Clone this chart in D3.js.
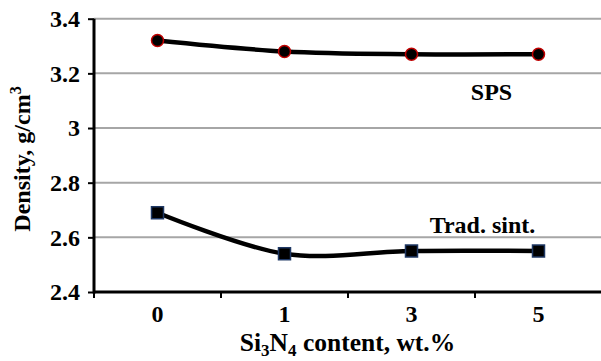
<!DOCTYPE html>
<html>
<head>
<meta charset="utf-8">
<script src="https://cdn.jsdelivr.net/npm/d3@7"></script>
<style>
  html, body { margin: 0; padding: 0; background: #fff; }
  svg { display: block; }
  text { font-family: "Liberation Serif", "Times New Roman", serif; font-weight: bold; fill: #000; }
</style>
</head>
<body>
<script>
// Si3N4 additions and measured densities
const categories = ["0", "1", "3", "5"];
const spsDensity = [3.32, 3.28, 3.27, 3.27];
const tradDensity = [2.69, 2.54, 2.55, 2.55];
const yTicks = [2.4, 2.6, 2.8, 3.0, 3.2, 3.4];
const yTickLabels = ["2.4", "2.6", "2.8", "3", "3.2", "3.4"];

const W = 601, H = 361;
const plotLeft = 94, plotRight = 602, plotTop = 18.7, plotBottom = 292;
const fs = 24;

const svg = d3.select("body").append("svg").attr("width", W).attr("height", H);

const x = d3.scaleBand().domain(categories).range([plotLeft, plotRight]).padding(0);
const y = d3.scaleLinear().domain([2.4, 3.4]).range([plotBottom, plotTop]);

// horizontal gridlines
svg.append("g").selectAll("line").data(yTicks.slice(1)).join("line")
  .attr("x1", plotLeft).attr("x2", W)
  .attr("y1", d => y(d)).attr("y2", d => y(d))
  .attr("stroke", "#a6a6a6").attr("stroke-width", 2);

// y axis
const yAxis = svg.append("g").attr("transform", `translate(${plotLeft},0)`)
  .call(d3.axisLeft(y).tickValues(yTicks).tickFormat((d, i) => yTickLabels[i]).tickSize(6).tickPadding(8));
yAxis.attr("font-family", null).attr("font-size", null);
yAxis.select(".domain").remove();
yAxis.selectAll(".tick line").attr("stroke", "#000").attr("stroke-width", 2);
yAxis.selectAll(".tick text").attr("font-size", fs).attr("dy", "0.33em");
svg.append("line").attr("x1", plotLeft).attr("x2", plotLeft).attr("y1", plotTop).attr("y2", plotBottom + 1.5)
  .attr("stroke", "#000").attr("stroke-width", 3);

// x axis: ticks at category boundaries, labels at centres
const xg = svg.append("g").attr("transform", `translate(0,${plotBottom})`);
xg.append("line").attr("x1", plotLeft).attr("x2", W).attr("stroke", "#000").attr("stroke-width", 3);
xg.selectAll(".bt").data(categories).join("line").attr("class", "bt")
  .attr("x1", d => x(d)).attr("x2", d => x(d)).attr("y1", 0).attr("y2", 6)
  .attr("stroke", "#000").attr("stroke-width", 2);
xg.selectAll(".lbl").data(categories).join("text").attr("class", "lbl")
  .attr("x", d => x(d) + x.bandwidth() / 2).attr("y", 30)
  .attr("text-anchor", "middle").attr("font-size", fs).text(d => d);

// smoothed series lines
const line = d3.line()
  .x((d, i) => x(categories[i]) + x.bandwidth() / 2)
  .y(d => y(d))
  .curve(d3.curveCatmullRom.alpha(0));

svg.append("path").datum(spsDensity).attr("d", line)
  .attr("fill", "none").attr("stroke", "#000").attr("stroke-width", 4.5);
svg.append("path").datum(tradDensity).attr("d", line)
  .attr("fill", "none").attr("stroke", "#000").attr("stroke-width", 4.5);

// markers
svg.append("g").selectAll("circle").data(spsDensity).join("circle")
  .attr("cx", (d, i) => x(categories[i]) + x.bandwidth() / 2)
  .attr("cy", d => y(d)).attr("r", 6)
  .attr("fill", "#000").attr("stroke", "#c00000").attr("stroke-width", 1.5);
svg.append("g").selectAll("rect").data(tradDensity).join("rect")
  .attr("x", (d, i) => x(categories[i]) + x.bandwidth() / 2 - 6)
  .attr("y", d => y(d) - 6).attr("width", 12).attr("height", 12)
  .attr("fill", "#000").attr("stroke", "#1f3864").attr("stroke-width", 1.5);

// series labels
svg.append("text").attr("x", 491.5).attr("y", 100).attr("text-anchor", "middle")
  .attr("font-size", fs).text("SPS");
svg.append("text").attr("x", 482.5).attr("y", 233).attr("text-anchor", "middle")
  .attr("font-size", fs).text("Trad. sint.");

// axis titles
const xt = svg.append("text").attr("x", 347.5).attr("y", 351).attr("text-anchor", "middle").attr("font-size", 25.5);
xt.append("tspan").text("Si");
xt.append("tspan").attr("font-size", 17).attr("dy", 5).text("3");
xt.append("tspan").attr("dy", -5).text("N");
xt.append("tspan").attr("font-size", 17).attr("dy", 5).text("4");
xt.append("tspan").attr("dy", -5).text(" content, wt.%");

const yt = svg.append("text").attr("transform", "translate(30,159) rotate(-90)")
  .attr("text-anchor", "middle").attr("font-size", fs);
yt.append("tspan").text("Density, g/cm");
yt.append("tspan").attr("font-size", 16).attr("dy", -9).text("3");
</script>
</body>
</html>
